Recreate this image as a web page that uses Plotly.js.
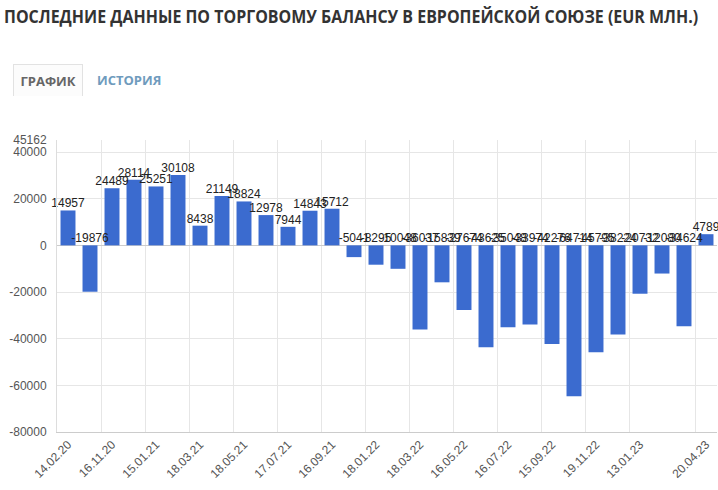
<!DOCTYPE html>
<html>
<head>
<meta charset="utf-8">
<script src="https://cdn.plot.ly/plotly-3.0.1.min.js"></script>
<style>
  html, body { margin: 0; padding: 0; background: #fff; }
  #wrap { position: relative; width: 718px; height: 490px; overflow: hidden; }
  #chart { position: absolute; left: 0; top: 0; width: 718px; height: 490px; }
  #title { position: absolute; left: 4px; top: 4px; font-family: "Open Sans", sans-serif; font-weight: 700; font-size: 18px; line-height: normal; color: #333; white-space: nowrap; z-index: 2; transform: scaleX(0.887); transform-origin: 0 0; }
  #tab1 { position: absolute; left: 13px; top: 64px; width: 70px; height: 32px; border: 1px solid #e2e2e2; border-bottom: none; background: #fcfcfc; box-sizing: border-box; z-index: 2; font-family: "Open Sans", sans-serif; font-weight: 700; font-size: 13px; color: #666; text-align: center; line-height: 33px; }
  #tab2 { position: absolute; left: 97px; top: 64px; height: 32px; z-index: 2; font-family: "Open Sans", sans-serif; font-weight: 700; font-size: 13px; color: #6f9bbd; line-height: 33px; }
</style>
</head>
<body>
<div id="wrap">
  <div id="chart"></div>
  <div id="title">ПОСЛЕДНИЕ ДАННЫЕ ПО ТОРГОВОМУ БАЛАНСУ В ЕВРОПЕЙСКОЙ СОЮЗЕ (EUR МЛН.)</div>
  <div id="tab1">ГРАФИК</div>
  <div id="tab2">ИСТОРИЯ</div>
</div>
<script>
// Trade balance values (EUR mln), in release order
const values = [14957, -19876, 24489, 28114, 25251, 30108, 8438, 21149, 18824, 12978, 7944, 14843, 15712,
                -5041, -8295, -10048, -36037, -15839, -27674, -43625, -35048, -33974, -42276, -64714,
                -45795, -38224, -20732, -12080, -34624, 4789];
// Date tick labels and the bar index each belongs to
const tickLabels = ["14.02.20", "16.11.20", "15.01.21", "18.03.21", "18.05.21", "17.07.21", "16.09.21",
                    "18.01.22", "18.03.22", "16.05.22", "16.07.22", "15.09.22", "19.11.22", "13.01.23", "20.04.23"];
const tickBars = [0, 2, 4, 6, 8, 10, 12, 14, 16, 18, 20, 22, 24, 26, 29];
// Y axis ticks
const yTicks = [45162, 40000, 20000, 0, -20000, -40000, -60000, -80000];

const idx = values.map((v, i) => i);
const gridVals = tickBars.map(b => b - 0.5);

const bars = {
  type: 'bar', x: idx, y: values,
  marker: { color: '#3b6bcf' }, width: 0.68,
  hoverinfo: 'skip'
};
const labels = {
  type: 'scatter', mode: 'text', x: idx,
  y: values.map(v => Math.max(v, 0)),
  text: values.map(String), textposition: 'top center',
  textfont: { family: 'Liberation Sans, Arial, sans-serif', size: 12, color: '#222' },
  hoverinfo: 'skip', cliponaxis: false
};

const layout = {
  width: 718, height: 490,
  margin: { l: 57, r: 1, t: 140, b: 58 },
  paper_bgcolor: '#fff', plot_bgcolor: '#fff',
  showlegend: false,
  bargap: 0.32,
  xaxis: {
    range: [-0.5, 29.5], fixedrange: true,
    tickmode: 'array', tickvals: tickBars, ticktext: tickLabels,
    tickangle: -45, showgrid: false, zeroline: false,
    showline: true, linecolor: '#cccccc', linewidth: 1,
    ticks: '',
    tickfont: { family: 'Liberation Sans, Arial, sans-serif', size: 12, color: '#555' },
    minor: { tickmode: 'array', tickvals: gridVals, showgrid: true, gridcolor: '#e6e6e6', gridwidth: 1, ticks: '' }
  },
  yaxis: {
    range: [-80000, 45162], fixedrange: true,
    tickmode: 'array', tickvals: yTicks, ticktext: yTicks.map(String),
    showgrid: true, gridcolor: '#e6e6e6',
    zeroline: true, zerolinecolor: '#cccccc', zerolinewidth: 1,
    showline: true, linecolor: '#dddddd', linewidth: 1,
    ticks: '', ticklabelstandoff: 7,
    tickfont: { family: 'Liberation Sans, Arial, sans-serif', size: 12, color: '#555' }
  }
};

Plotly.newPlot('chart', [bars, labels], layout, { displayModeBar: false, staticPlot: true });
</script>
</body>
</html>
